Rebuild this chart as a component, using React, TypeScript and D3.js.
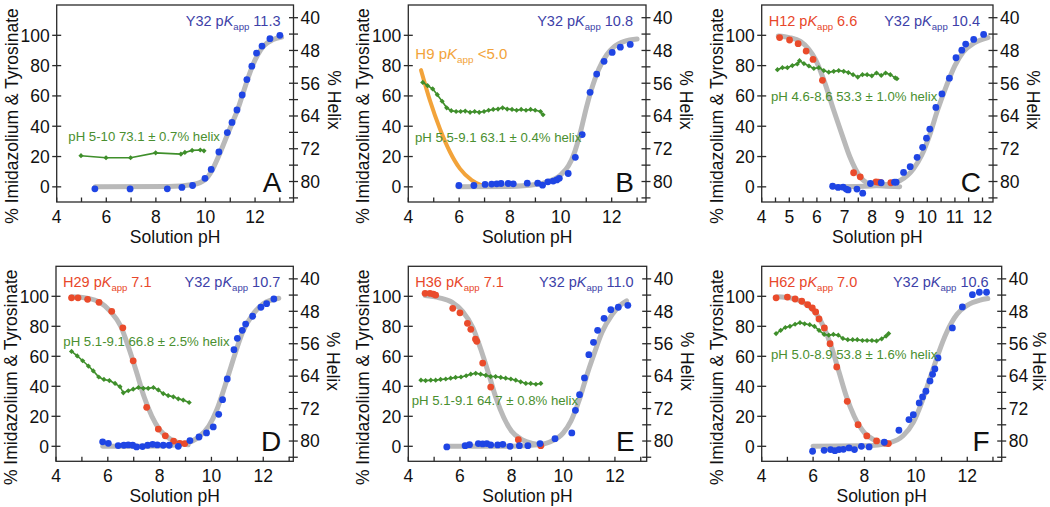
import React from 'react';
import * as d3 from 'd3';

type P = [number, number];

// ---------- Panel A ----------
const aBlue: P[] = [[5.54,-1.3],[6.96,-1.4],[8.46,-1.3],[9.05,-0.4],[9.48,0.9],[9.98,5.6],[10.23,11.5],[10.54,23],[10.88,35.8],[11.07,42.5],[11.27,50.7],[11.48,60.6],[11.67,70.8],[11.87,79.6],[12.06,88.3],[12.28,92.9],[12.6,97.8],[13.0,100]];
const aHelix: P[] = [[4.98,73.7],[5.99,74.2],[6.98,74.2],[7.99,73.0],[9.01,73.3],[9.17,72.9],[9.46,72.4],[9.79,72.3],[9.94,72.5]];
const aBlueFit: P[] = [[5.55,0],[8.5,0.2],[9.5,1.5],[10,5],[10.25,10.5],[10.55,21],[10.9,35],[11.1,43],[11.3,51],[11.5,61],[11.7,71],[11.9,80],[12.1,87],[12.35,93],[12.7,97],[13.07,98.8]];

// ---------- Panel B ----------
const bBlue: P[] = [[5.99,0.9],[6.58,0.9],[7.02,1.6],[7.28,1.8],[7.48,2.0],[7.65,2.2],[7.93,2.2],[8.13,2.0],[8.68,2.4],[9.09,2.4],[9.28,1.1],[9.49,3.3],[9.7,3.8],[9.84,4.6],[9.94,5.6],[10.29,8.8],[10.57,19.5],[10.84,34.5],[11.15,62.4],[11.41,74.4],[11.7,82.8],[12.02,88.7],[12.34,92.2],[12.73,94]];
const bHelix: P[] = [[4.57,55.8],[4.76,56.6],[4.96,57.4],[5.14,58.8],[5.33,60.4],[5.51,62.0],[5.69,62.7],[5.88,62.9],[6.06,62.9],[6.24,62.8],[6.43,63.1],[6.61,62.9],[6.79,63.1],[6.98,62.9],[7.16,62.6],[7.34,62.4],[7.53,62.3],[7.71,62.0],[7.89,62.3],[8.08,62.4],[8.26,62.6],[8.44,62.4],[8.63,62.6],[8.81,62.4],[8.99,62.6],[9.2,62.9],[9.3,63.7]];
const bBlueFit: P[] = [[5.95,0],[8,0.3],[9,1.5],[9.5,3.5],[10,8],[10.3,14],[10.5,21],[10.8,38],[11,52],[11.2,64],[11.5,78],[11.8,87],[12.1,92.5],[12.5,96],[13.0,97.5]];
const bOrangeFit: P[] = [[4.5,77],[4.85,57],[5.25,38],[5.64,23],[6.03,12],[6.49,4.5],[6.89,1],[7.05,0.3]];

// ---------- Panel C ----------
const cRed: P[] = [[4.65,98.5],[5.01,96.9],[5.32,94.5],[5.61,89.6],[5.86,84.1],[6.2,70.3],[7.33,9.3],[7.57,6.6],[8.14,3.3],[8.23,3.1],[8.3,2.9],[8.68,2.7]];
const cBlue: P[] = [[6.57,0.4],[6.77,-0.4],[6.95,-0.2],[7.06,-1.5],[7.13,-2],[7.45,-1.5],[7.66,-4.2],[7.94,2.2],[8.33,2.7],[8.81,3.1],[8.87,3.1],[9.14,9.5],[9.38,13.3],[9.63,19.5],[9.83,26.1],[9.97,32.1],[10.09,38.1],[10.31,52.4],[10.53,61.3],[10.8,71.7],[11.04,85.2],[11.25,90.2],[11.39,94.2],[11.68,97.3],[12.04,100.6]];
const cHelix: P[] = [[4.57,52.7],[4.75,52.2],[4.93,52.2],[5.11,51.7],[5.29,51.3],[5.37,50.5],[5.53,51.2],[5.71,51.8],[5.89,52.4],[6.07,52.2],[6.25,52.9],[6.43,53.3],[6.61,53.1],[6.79,52.9],[6.97,53.1],[7.14,53.4],[7.31,53.9],[7.48,54.5],[7.65,53.9],[7.82,53.9],[7.99,54.2],[8.16,53.5],[8.33,54.1],[8.49,53.5],[8.66,53.9],[8.84,54.7],[8.9,54.9]];
const cRedFit: P[] = [[4.6,99.5],[5,98.5],[5.4,96],[5.7,91],[5.95,84],[6.3,68],[6.6,51],[6.9,35],[7.2,19.5],[7.55,7],[7.9,2],[8.4,0.5],[9,0.1]];
const cBlueFit: P[] = [[6.6,0],[8,0.5],[8.5,1.5],[9,4],[9.5,12],[9.8,21],[10.1,35],[10.36,50],[10.7,67],[11,80],[11.3,89],[11.7,95],[12.2,98.5]];

// ---------- Panel D ----------
const dRed: P[] = [[4.6,99],[4.85,99],[5.22,98],[5.66,96],[6.15,90],[6.58,79],[6.98,57],[7.5,26],[7.95,11.5],[8.22,7],[8.54,3.5],[8.78,2],[8.97,1.8]];
const dBlue: P[] = [[5.8,3],[6.02,2],[6.4,0.5],[6.62,0.7],[6.79,0.9],[6.96,0.7],[7.11,-0.4],[7.34,-0.2],[7.54,0.7],[7.73,1.3],[7.91,0.9],[8.14,0.7],[8.37,0.7],[8.72,0],[9.17,3.8],[9.52,6.2],[9.81,8.9],[10.07,12.9],[10.28,21.3],[10.43,31.1],[10.61,44.9],[10.87,64.4],[11.0,72],[11.19,77.3],[11.32,81.5],[11.59,86.7],[11.91,92.7],[12.13,95.1],[12.41,98.2]];
const dHelix: P[] = [[4.6,57.9],[4.82,59.0],[5.03,60.2],[5.25,61.5],[5.44,62.7],[5.65,64.2],[5.85,64.8],[6.06,65.1],[6.28,65.8],[6.47,66.6],[6.6,68.1],[6.79,67.6],[6.98,67.2],[7.18,66.8],[7.37,67.0],[7.56,67.0],[7.76,66.8],[7.95,67.4],[8.14,68.3],[8.33,68.8],[8.53,69.1],[8.72,69.6],[8.91,69.9],[9.14,70.5]];
const dRedFit: P[] = [[4.6,99.7],[5.2,98.8],[5.7,96],[6.1,90],[6.5,80],[6.8,66],[7.1,50],[7.4,33],[7.7,20],[8,11],[8.4,5],[8.8,2],[9.1,1]];
const dBlueFit: P[] = [[5.8,0],[8,0.2],[9,2],[9.5,6],[9.9,13.5],[10.2,24],[10.5,39],[10.7,50],[10.9,61],[11.2,76],[11.6,88],[12.0,95],[12.6,98.7]];

// ---------- Panel E ----------
const eRed: P[] = [[4.65,102],[4.84,102],[4.97,101.5],[5.06,100.8],[5.72,92],[6.0,89],[6.29,82],[6.42,78],[6.6,71.5],[6.65,70],[6.88,55.5],[7.19,39.5],[8.26,4.4],[9.13,0.4]];
const eBlue: P[] = [[5.49,-0.4],[6.2,0.4],[6.37,1.1],[6.71,1.8],[6.88,1.6],[7.04,1.8],[7.19,0.9],[7.46,0.9],[7.66,1.3],[7.94,0],[8.3,0.4],[8.63,0.4],[9.1,1.8],[9.68,5.1],[10.33,8.9],[10.47,24],[10.63,34.4],[10.82,45.6],[10.99,61.1],[11.17,69.3],[11.33,77.3],[11.58,85.3],[11.84,91.1],[12.13,92.7],[12.5,94]];
const eHelix: P[] = [[4.49,65.0],[4.67,65.1],[4.87,65.0],[5.06,65.0],[5.25,64.8],[5.45,64.7],[5.64,64.5],[5.83,64.3],[6.04,64.2],[6.24,63.9],[6.42,63.5],[6.61,63.3],[6.8,63.5],[7.0,63.8],[7.19,64.1],[7.38,64.1],[7.58,64.3],[7.77,64.5],[7.97,64.7],[8.16,65.0],[8.35,65.4],[8.55,65.8],[8.74,65.8],[8.94,66.0],[9.13,65.8]];
const eRedFit: P[] = [[4.65,100.5],[5.2,99],[5.7,96],[6.1,90],[6.5,79],[6.8,65],[7.1,49],[7.4,32],[7.7,19],[8,10],[8.4,4.5],[8.8,2],[9.2,1]];
const eBlueFit: P[] = [[5.5,0],[8,0.1],[9,1],[9.5,3],[10,9],[10.3,17],[10.6,30],[10.8,41],[11,52],[11.2,62],[11.5,76],[11.9,88],[12.2,94],[12.45,97]];

// ---------- Panel F ----------
const fRed: P[] = [[4.56,99],[5.0,99.5],[5.3,98.2],[5.56,96.7],[5.79,94.4],[5.97,92.2],[6.1,89.6],[6.23,84.9],[6.44,78.9],[6.66,68.4],[6.92,52.9],[7.33,30],[7.75,14.4],[8.09,6.9],[8.47,3.6],[8.8,2.2],[8.93,1.8]];
const fBlue: P[] = [[5.98,-3.3],[6.43,-2.7],[6.68,-2.2],[6.85,-2.9],[7.01,-2.2],[7.18,-2.0],[7.4,-1.1],[7.61,-2.2],[7.88,0],[8.18,-0.4],[8.77,2.7],[9.34,10.7],[9.73,17.8],[9.9,21.1],[10.13,28.9],[10.26,32.9],[10.39,36.7],[10.55,43.6],[10.65,48],[10.74,51.6],[10.86,58.9],[11.42,78.9],[11.81,92.9],[12.2,101.1],[12.47,102.7],[12.75,102.7]];
const fHelix: P[] = [[4.56,53.5],[4.74,52.7],[4.92,52.0],[5.1,51.7],[5.3,51.2],[5.49,50.8],[5.67,51.1],[5.87,51.3],[6.05,51.7],[6.23,52.7],[6.43,53.7],[6.61,53.9],[6.79,53.7],[6.98,53.9],[7.16,54.7],[7.35,55.0],[7.54,55.0],[7.72,55.0],[7.92,55.2],[8.1,55.2],[8.29,55.2],[8.47,55.3],[8.67,54.8],[8.84,54.1],[8.94,53.5]];
const fRedFit: P[] = [[4.6,99.7],[5.2,98.6],[5.7,95],[6.1,89],[6.4,80],[6.7,67],[7,50],[7.3,33],[7.6,20],[8,9],[8.4,4],[8.9,1.2]];
const fBlueFit: P[] = [[6,0],[8,0.3],[9,2.5],[9.5,7],[9.9,16],[10.2,28],[10.5,43],[10.7,53],[10.9,63],[11.2,76],[11.6,88],[12,94],[12.5,97.5],[12.8,98.5]];

// ---------- Axis ticks / labels ----------
const leftTicks = [0, 20, 40, 60, 80, 100];
const rightTicks = [40, 44, 48, 52, 56, 60, 64, 68, 72, 76, 80, 84];
const rightLabels = [40, 48, 56, 64, 72, 80];
const xLabelsEven = [4, 6, 8, 10, 12];
const xLabelsAll = [4, 5, 6, 7, 8, 9, 10, 11, 12];
const yDomain: [number, number] = [-10, 120];
const helixDomain: [number, number] = [85, 36.9];

const FONT = "'Liberation Sans', Arial, Helvetica, sans-serif";
const BLUE = '#1f45e4';
const RED = '#ea4b2b';
const GREEN = '#3f8f2b';
const GRAY = '#b9b9b9';
const ORANGE = '#f2a33a';
const BLUE_TXT = '#3d3fa8';
const RED_TXT = '#e8472a';
const GREEN_TXT = '#4a8f30';
const AXIS = '#2a2a2a';

interface Label { prefix: string; value: string; }
interface Cfg {
  letter: string;
  left: number; right: number; top: number; bottom: number;
  xMax: number; tickStep: number; xLabels: number[];
  blue: P[]; red?: P[]; helix: P[];
  blueFit: P[]; redFit?: P[]; orangeFit?: P[];
  blueLabel: Label; redLabel?: Label; orangeLabel?: Label;
  helixText: string; helixPos: [number, number];
}

const panels: Cfg[] = [
  { letter: 'A', left: 56.7, right: 293.5, top: 5, bottom: 202, xMax: 13.55, tickStep: 1, xLabels: xLabelsEven,
    blue: aBlue, helix: aHelix, blueFit: aBlueFit,
    blueLabel: { prefix: 'Y32', value: '11.3' },
    helixText: 'pH 5-10 73.1 ± 0.7% helix', helixPos: [11.6, 136] },
  { letter: 'B', left: 408.3, right: 646, top: 5, bottom: 202, xMax: 13.35, tickStep: 1, xLabels: xLabelsEven,
    blue: bBlue, helix: bHelix, blueFit: bBlueFit, orangeFit: bOrangeFit,
    blueLabel: { prefix: 'Y32', value: '10.8' }, orangeLabel: { prefix: 'H9', value: '<5.0' },
    helixText: 'pH 5.5-9.1 63.1 ± 0.4% helix', helixPos: [6.7, 136.5] },
  { letter: 'C', left: 761.7, right: 993, top: 5, bottom: 202, xMax: 12.38, tickStep: 0.5, xLabels: xLabelsAll,
    blue: cBlue, red: cRed, helix: cHelix, blueFit: cBlueFit, redFit: cRedFit,
    blueLabel: { prefix: 'Y32', value: '10.4' }, redLabel: { prefix: 'H12', value: '6.6' },
    helixText: 'pH 4.6-8.6 53.3 ± 1.0% helix', helixPos: [9.3, 96] },
  { letter: 'D', left: 56, right: 293.3, top: 266.3, bottom: 461.3, xMax: 13.16, tickStep: 1, xLabels: xLabelsEven,
    blue: dBlue, red: dRed, helix: dHelix, blueFit: dBlueFit, redFit: dRedFit,
    blueLabel: { prefix: 'Y32', value: '10.7' }, redLabel: { prefix: 'H29', value: '7.1' },
    helixText: 'pH 5.1-9.1 66.8 ± 2.5% helix', helixPos: [7.3, 80] },
  { letter: 'E', left: 408.3, right: 646.7, top: 266.3, bottom: 461.3, xMax: 13.23, tickStep: 1, xLabels: xLabelsEven,
    blue: eBlue, red: eRed, helix: eHelix, blueFit: eBlueFit, redFit: eRedFit,
    blueLabel: { prefix: 'Y32', value: '11.0' }, redLabel: { prefix: 'H36', value: '7.1' },
    helixText: 'pH 5.1-9.1 64.7 ± 0.8% helix', helixPos: [3.4, 139] },
  { letter: 'F', left: 761.7, right: 1001.7, top: 266.3, bottom: 461.3, xMax: 13.34, tickStep: 1, xLabels: xLabelsEven,
    blue: fBlue, red: fRed, helix: fHelix, blueFit: fBlueFit, redFit: fRedFit,
    blueLabel: { prefix: 'Y32', value: '10.6' }, redLabel: { prefix: 'H62', value: '7.0' },
    helixText: 'pH 5.0-8.9 53.8 ± 1.6% helix', helixPos: [9.3, 93] },
];

function PKText({ lab, x, y, anchor, color, size }: { lab: Label; x: number; y: number; anchor: string; color: string; size: number }) {
  return (
    <text x={x} y={y} textAnchor={anchor} fill={color} fontSize={size} fontFamily={FONT}>
      {lab.prefix} p<tspan fontStyle="italic">K</tspan>
      <tspan fontSize={size * 0.66} dy={3.5}>app</tspan>
      <tspan dy={-3.5}>{' ' + lab.value}</tspan>
    </text>
  );
}

function Panel({ c }: { c: Cfg }) {
  const x = d3.scaleLinear().domain([4, c.xMax]).range([c.left, c.right]);
  const y = d3.scaleLinear().domain(yDomain).range([c.bottom, c.top]);
  const yr = d3.scaleLinear().domain(helixDomain).range([c.bottom, c.top]);
  const fit = d3.line<P>().x(d => x(d[0])).y(d => y(d[1])).curve(d3.curveMonotoneX);
  const hl = d3.line<P>().x(d => x(d[0])).y(d => yr(d[1]));
  const xt = d3.range(4, c.xMax + 1e-6, c.tickStep);
  const fs = 17.5;
  const helixTitleX = Math.min(c.right + 34, 1050 - 17);
  return (
    <g>
      {c.orangeFit && <path d={fit(c.orangeFit) || ''} fill="none" stroke={ORANGE} strokeWidth={4} strokeLinecap="round" />}
      {c.redFit && <path d={fit(c.redFit) || ''} fill="none" stroke={GRAY} strokeWidth={5} strokeLinecap="round" />}
      <path d={fit(c.blueFit) || ''} fill="none" stroke={GRAY} strokeWidth={5} strokeLinecap="round" />
      <path d={hl(c.helix) || ''} fill="none" stroke={GREEN} strokeWidth={1.6} />
      {c.helix.map((d, i) => {
        const cx = x(d[0]), cy = yr(d[1]), s = 2.6;
        return <path key={'h' + i} d={`M${cx},${cy - s}L${cx + s},${cy}L${cx},${cy + s}L${cx - s},${cy}Z`} fill={GREEN} />;
      })}
      {c.red && c.red.map((d, i) => <circle key={'r' + i} cx={x(d[0])} cy={y(d[1])} r={3.4} fill={RED} />)}
      {c.blue.map((d, i) => <circle key={'b' + i} cx={x(d[0])} cy={y(d[1])} r={3.4} fill={BLUE} />)}
      <rect x={c.left} y={c.top} width={c.right - c.left} height={c.bottom - c.top} fill="none" stroke={AXIS} strokeWidth={1.3} />
      {leftTicks.map(t => (
        <g key={'l' + t}>
          <line x1={c.left - 4.5} x2={c.left + 4.5} y1={y(t)} y2={y(t)} stroke={AXIS} strokeWidth={1.3} />
          <text x={c.left - 7} y={y(t)} dy="0.36em" textAnchor="end" fontSize={fs} fontFamily={FONT} fill="#111">{t}</text>
        </g>
      ))}
      {rightTicks.map(t => (
        <line key={'rt' + t} x1={c.right - 4.5} x2={c.right + 4.5} y1={yr(t)} y2={yr(t)} stroke={AXIS} strokeWidth={1.3} />
      ))}
      {rightLabels.map(t => (
        <text key={'rl' + t} x={c.right + 7} y={yr(t)} dy="0.36em" textAnchor="start" fontSize={fs} fontFamily={FONT} fill="#111">{t}</text>
      ))}
      {xt.map(t => (
        <line key={'x' + t} x1={x(t)} x2={x(t)} y1={c.bottom} y2={c.bottom - 4.5} stroke={AXIS} strokeWidth={1.3} />
      ))}
      {c.xLabels.map(t => (
        <text key={'xl' + t} x={x(t)} y={c.bottom + 21} textAnchor="middle" fontSize={fs} fontFamily={FONT} fill="#111">{t}</text>
      ))}
      <text x={(c.left + c.right) / 2} y={c.bottom + 41} textAnchor="middle" fontSize={fs} fontFamily={FONT} fill="#111">Solution pH</text>
      <text transform={`translate(${c.left - 39},${c.top + 111}) rotate(-90)`} textAnchor="middle" fontSize={fs} fontFamily={FONT} fill="#111">% Imidazolium &amp; Tyrosinate</text>
      <text transform={`translate(${helixTitleX},${c.top + 95}) rotate(90)`} textAnchor="middle" fontSize={fs} fontFamily={FONT} fill="#111">% Helix</text>
      <PKText lab={c.blueLabel} x={c.right - 13} y={c.top + 21} anchor="end" color={BLUE_TXT} size={14.5} />
      {c.redLabel && <PKText lab={c.redLabel} x={c.left + 7} y={c.top + 21} anchor="start" color={RED_TXT} size={14.5} />}
      {c.orangeLabel && <PKText lab={c.orangeLabel} x={c.left + 7} y={c.top + 54} anchor="start" color={ORANGE} size={15} />}
      <text x={c.left + c.helixPos[0]} y={c.top + c.helixPos[1]} fontSize={13.2} fontFamily={FONT} fill={GREEN_TXT}>{c.helixText}</text>
      <text x={c.right - 12} y={c.bottom - 10} textAnchor="end" fontSize={28} fontFamily={FONT} fill="#111">{c.letter}</text>
    </g>
  );
}

export default function App() {
  return (
    <svg width={1050} height={507} style={{ position: 'absolute', left: 0, top: 0, background: '#fff' }}>
      <rect x={0} y={0} width={1050} height={507} fill="#fff" />
      {panels.map(p => <Panel key={p.letter} c={p} />)}
    </svg>
  );
}
